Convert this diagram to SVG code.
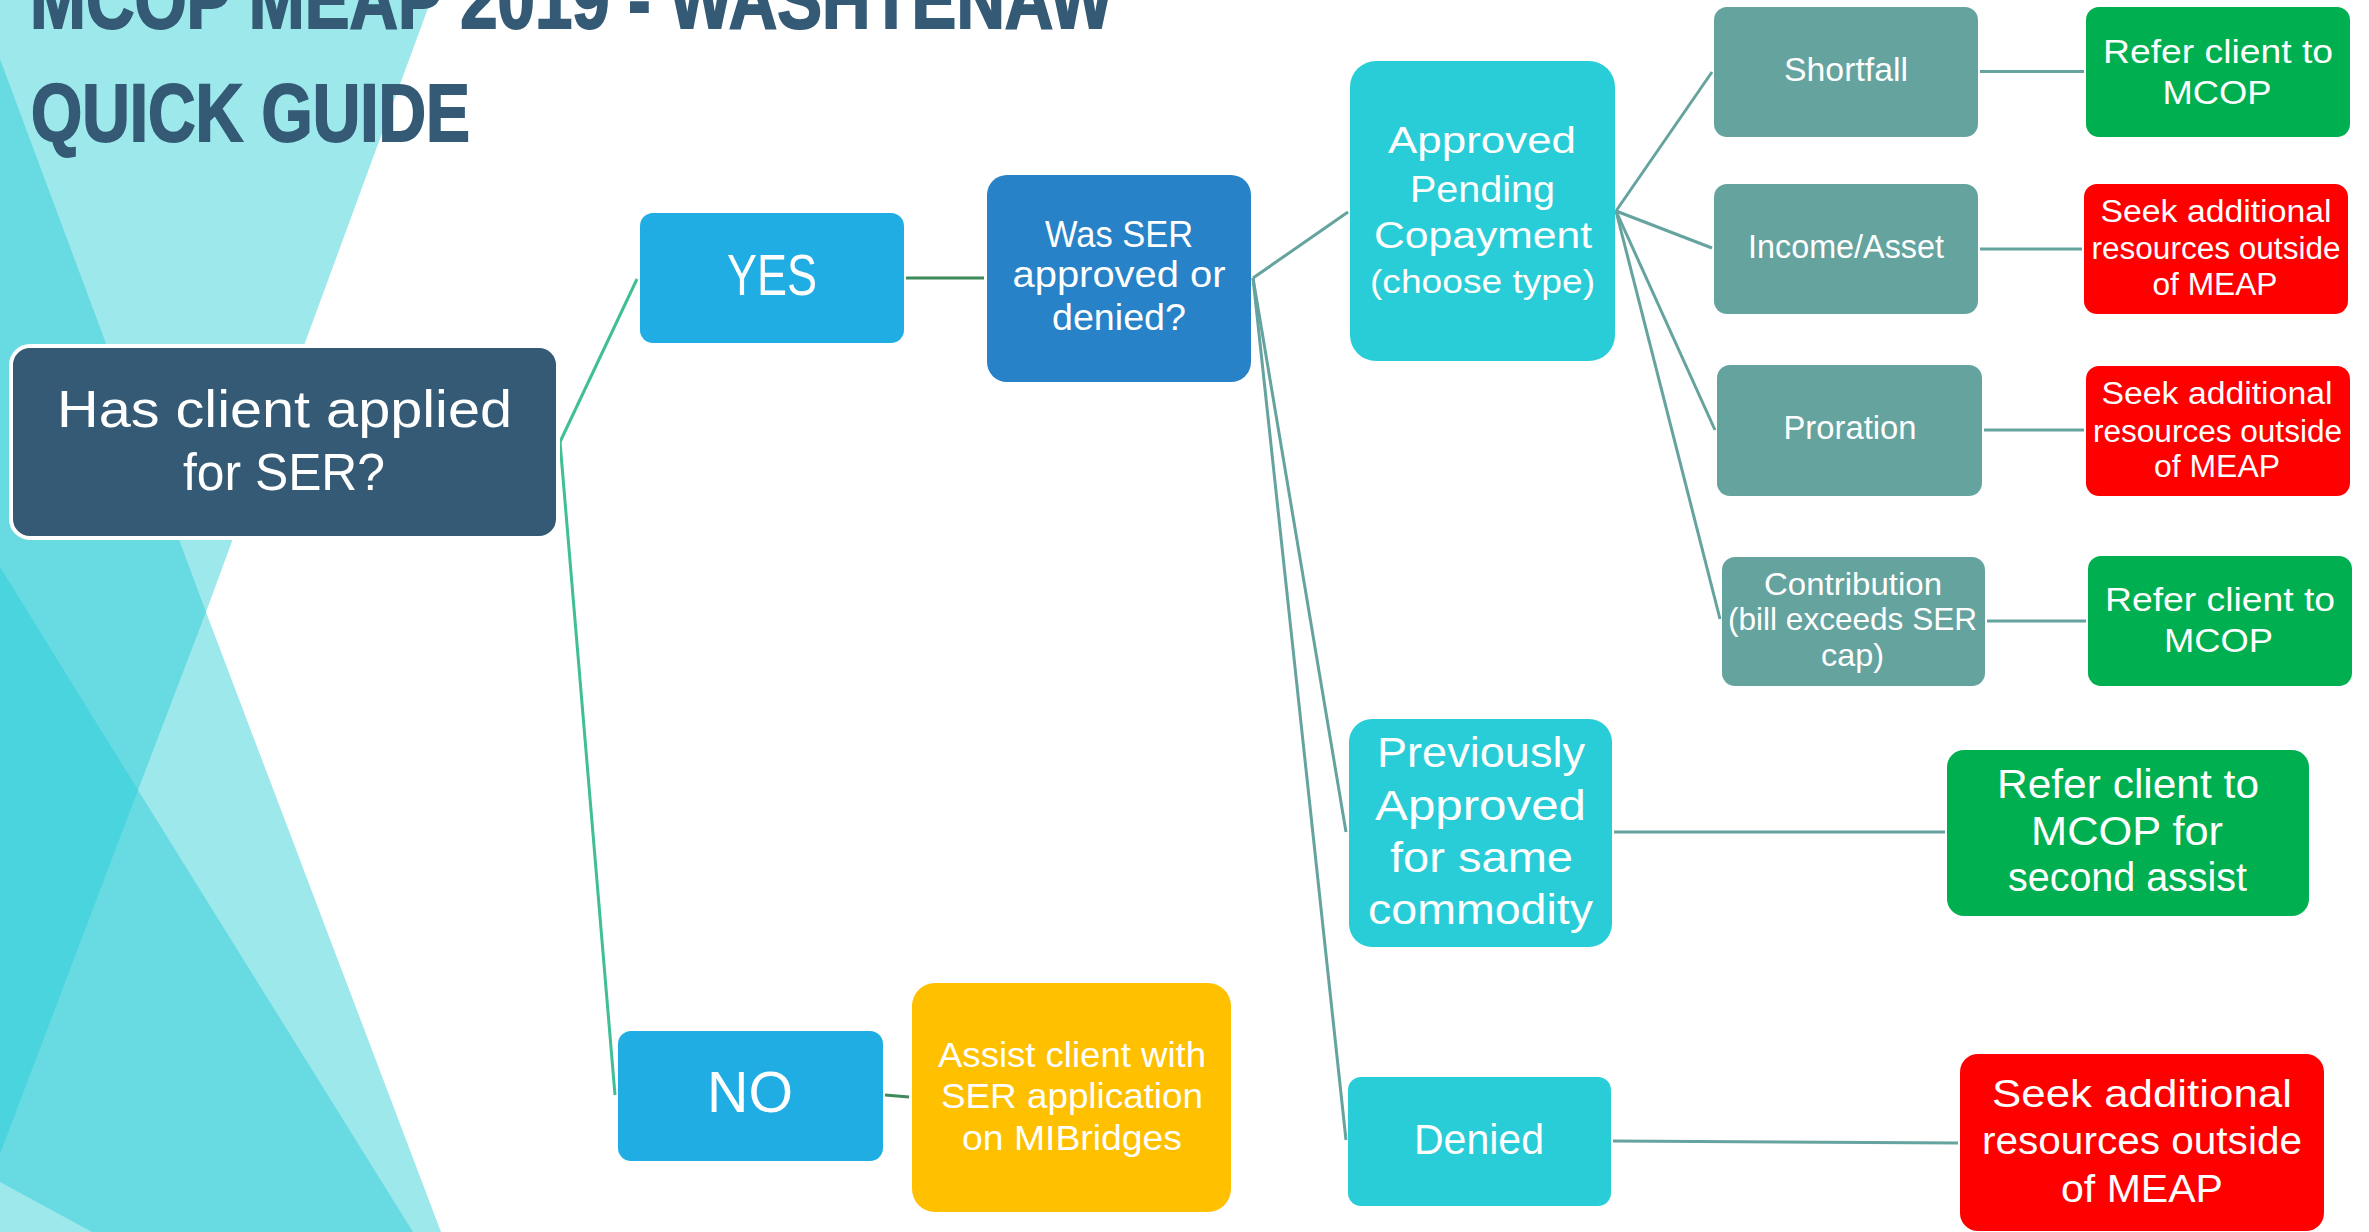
<svg xmlns="http://www.w3.org/2000/svg" width="2369" height="1232" viewBox="0 0 2369 1232">
<style>
.t{fill:#fff;font-family:'Liberation Sans',Arial,sans-serif;text-anchor:middle}
.title{fill:#345A75;stroke:#345A75;stroke-width:2;font-family:'Liberation Sans',Arial,sans-serif;font-weight:bold;font-size:82px}
.c{stroke:#65A39F;stroke-width:3;fill:none;stroke-linecap:butt}
.cg{stroke:#40BE95}
.cd{stroke:#3E8A5A}
.navy{fill:#345A75}
.blue{fill:#1FADE3}
.mid{fill:#2882C7}
.cyan{fill:#29CDD7}
.gray{fill:#65A39F}
.green{fill:#00B050}
.red{fill:#FF0000}
.gold{fill:#FFC000}
</style>
<rect width="2369" height="1232" fill="#fff"/>
<g id="background">
<polygon points="0,0 431,0 206,612 441,1232 0,1232" fill="#9DE8EB"/>
<polygon points="0,59 206,612 138,790 413,1232 92,1232 0,1182" fill="#68DBE2"/>
<polygon points="0,567 138,790 0,1154" fill="#4AD4DD"/>
</g>
<g id="title">
<text class="title" x="30" y="28" textLength="1083" lengthAdjust="spacingAndGlyphs">MCOP MEAP 2019 - WASHTENAW</text>
<text class="title" x="31" y="141" textLength="439" lengthAdjust="spacingAndGlyphs">QUICK GUIDE</text>
</g>
<g id="connectors">
<line class="c cg" x1="560" y1="442" x2="637" y2="279"/>
<line class="c cg" x1="560" y1="442" x2="615" y2="1095"/>
<line class="c cd" x1="906" y1="278" x2="984" y2="278"/>
<line class="c cd" x1="885" y1="1095" x2="909" y2="1097"/>
<line class="c" x1="1253" y1="278" x2="1348" y2="212"/>
<line class="c" x1="1253" y1="278" x2="1346" y2="832"/>
<line class="c" x1="1253" y1="278" x2="1346" y2="1140"/>
<line class="c" x1="1616" y1="211" x2="1712" y2="72"/>
<line class="c" x1="1616" y1="211" x2="1712" y2="248"/>
<line class="c" x1="1616" y1="211" x2="1715" y2="430"/>
<line class="c" x1="1616" y1="211" x2="1720" y2="619"/>
<line class="c" x1="1980" y1="71.5" x2="2084" y2="71.5"/>
<line class="c" x1="1980" y1="249" x2="2082" y2="249"/>
<line class="c" x1="1984" y1="430" x2="2084" y2="430"/>
<line class="c" x1="1987" y1="621" x2="2086" y2="621"/>
<line class="c" x1="1614" y1="832" x2="1945" y2="832"/>
<line class="c" x1="1613" y1="1141" x2="1958" y2="1143"/>
</g>
<g id="node-root">
<rect class="navy" x="11" y="346" width="547" height="192" rx="19" stroke="#fff" stroke-width="4"/>
<text class="t" font-size="52" x="284.5" y="427" textLength="455" lengthAdjust="spacingAndGlyphs">Has client applied</text>
<text class="t" font-size="52" x="284" y="490" textLength="202" lengthAdjust="spacingAndGlyphs">for SER?</text>
</g>
<g id="node-yes">
<rect class="blue" x="640" y="213" width="264" height="130" rx="13"/>
<text class="t" font-size="57" x="772" y="295" textLength="90" lengthAdjust="spacingAndGlyphs">YES</text>
</g>
<g id="node-no">
<rect class="blue" x="618" y="1031" width="265" height="130" rx="13"/>
<text class="t" font-size="57" x="750" y="1112" textLength="86" lengthAdjust="spacingAndGlyphs">NO</text>
</g>
<g id="node-assist">
<rect class="gold" x="912" y="983" width="319" height="229" rx="23"/>
<text class="t" font-size="35" x="1072" y="1067" textLength="268" lengthAdjust="spacingAndGlyphs">Assist client with</text>
<text class="t" font-size="35" x="1072" y="1108" textLength="262" lengthAdjust="spacingAndGlyphs">SER application</text>
<text class="t" font-size="35" x="1072" y="1150" textLength="220" lengthAdjust="spacingAndGlyphs">on MIBridges</text>
</g>
<g id="node-was-ser">
<rect class="mid" x="987" y="175" width="264" height="207" rx="20"/>
<text class="t" font-size="36" x="1119" y="247" textLength="148" lengthAdjust="spacingAndGlyphs">Was SER</text>
<text class="t" font-size="36" x="1119" y="287" textLength="213" lengthAdjust="spacingAndGlyphs">approved or</text>
<text class="t" font-size="36" x="1119" y="330" textLength="134" lengthAdjust="spacingAndGlyphs">denied?</text>
</g>
<g id="node-approved-pending">
<rect class="cyan" x="1350" y="61" width="265" height="300" rx="26"/>
<text class="t" font-size="37" x="1482" y="153" textLength="188" lengthAdjust="spacingAndGlyphs">Approved</text>
<text class="t" font-size="37" x="1482.5" y="202" textLength="145" lengthAdjust="spacingAndGlyphs">Pending</text>
<text class="t" font-size="37" x="1483" y="248" textLength="218" lengthAdjust="spacingAndGlyphs">Copayment</text>
<text class="t" font-size="33" x="1482.5" y="293" textLength="225" lengthAdjust="spacingAndGlyphs">(choose type)</text>
</g>
<g id="node-shortfall">
<rect class="gray" x="1714" y="7" width="264" height="130" rx="13"/>
<text class="t" font-size="34" x="1846" y="81" textLength="124" lengthAdjust="spacingAndGlyphs">Shortfall</text>
</g>
<g id="node-income-asset">
<rect class="gray" x="1714" y="184" width="264" height="130" rx="13"/>
<text class="t" font-size="34" x="1846" y="258" textLength="196" lengthAdjust="spacingAndGlyphs">Income/Asset</text>
</g>
<g id="node-proration">
<rect class="gray" x="1717" y="365" width="265" height="131" rx="13"/>
<text class="t" font-size="34" x="1850" y="439" textLength="133" lengthAdjust="spacingAndGlyphs">Proration</text>
</g>
<g id="node-contribution">
<rect class="gray" x="1722" y="557" width="263" height="129" rx="13"/>
<text class="t" font-size="32" x="1853" y="595" textLength="178" lengthAdjust="spacingAndGlyphs">Contribution</text>
<text class="t" font-size="32" x="1852.5" y="630" textLength="249" lengthAdjust="spacingAndGlyphs">(bill exceeds SER</text>
<text class="t" font-size="32" x="1852.5" y="666" textLength="63" lengthAdjust="spacingAndGlyphs">cap)</text>
</g>
<g id="node-refer-mcop-1">
<rect class="green" x="2086" y="7" width="264" height="130" rx="13"/>
<text class="t" font-size="34" x="2218" y="62.5" textLength="230" lengthAdjust="spacingAndGlyphs">Refer client to</text>
<text class="t" font-size="34" x="2217" y="103.5" textLength="109" lengthAdjust="spacingAndGlyphs">MCOP</text>
</g>
<g id="node-seek-1">
<rect class="red" x="2084" y="184" width="264" height="130" rx="13"/>
<text class="t" font-size="31" x="2216" y="222" textLength="231" lengthAdjust="spacingAndGlyphs">Seek additional</text>
<text class="t" font-size="31" x="2216" y="259" textLength="249" lengthAdjust="spacingAndGlyphs">resources outside</text>
<text class="t" font-size="31" x="2215" y="295" textLength="125" lengthAdjust="spacingAndGlyphs">of MEAP</text>
</g>
<g id="node-seek-2">
<rect class="red" x="2086" y="366" width="264" height="130" rx="13"/>
<text class="t" font-size="31" x="2217" y="404" textLength="231" lengthAdjust="spacingAndGlyphs">Seek additional</text>
<text class="t" font-size="31" x="2217.5" y="442" textLength="249" lengthAdjust="spacingAndGlyphs">resources outside</text>
<text class="t" font-size="31" x="2217" y="477" textLength="126" lengthAdjust="spacingAndGlyphs">of MEAP</text>
</g>
<g id="node-refer-mcop-2">
<rect class="green" x="2088" y="556" width="264" height="130" rx="13"/>
<text class="t" font-size="34" x="2220" y="611" textLength="230" lengthAdjust="spacingAndGlyphs">Refer client to</text>
<text class="t" font-size="34" x="2218.5" y="652" textLength="109" lengthAdjust="spacingAndGlyphs">MCOP</text>
</g>
<g id="node-previously-approved">
<rect class="cyan" x="1349" y="719" width="263" height="228" rx="23"/>
<text class="t" font-size="42" x="1481" y="767" textLength="208" lengthAdjust="spacingAndGlyphs">Previously</text>
<text class="t" font-size="42" x="1480.5" y="820" textLength="211" lengthAdjust="spacingAndGlyphs">Approved</text>
<text class="t" font-size="42" x="1481.5" y="872" textLength="183" lengthAdjust="spacingAndGlyphs">for same</text>
<text class="t" font-size="42" x="1480.5" y="924" textLength="225" lengthAdjust="spacingAndGlyphs">commodity</text>
</g>
<g id="node-refer-second">
<rect class="green" x="1947" y="750" width="362" height="166" rx="17"/>
<text class="t" font-size="40" x="2128" y="798" textLength="262" lengthAdjust="spacingAndGlyphs">Refer client to</text>
<text class="t" font-size="40" x="2127" y="844.5" textLength="192" lengthAdjust="spacingAndGlyphs">MCOP for</text>
<text class="t" font-size="40" x="2127.5" y="891" textLength="239" lengthAdjust="spacingAndGlyphs">second assist</text>
</g>
<g id="node-denied">
<rect class="cyan" x="1348" y="1077" width="263" height="129" rx="13"/>
<text class="t" font-size="42" x="1479" y="1154" textLength="130" lengthAdjust="spacingAndGlyphs">Denied</text>
</g>
<g id="node-seek-3">
<rect class="red" x="1960" y="1054" width="364" height="177" rx="18"/>
<text class="t" font-size="39" x="2142" y="1107" textLength="300" lengthAdjust="spacingAndGlyphs">Seek additional</text>
<text class="t" font-size="39" x="2142" y="1154" textLength="320" lengthAdjust="spacingAndGlyphs">resources outside</text>
<text class="t" font-size="39" x="2142" y="1202" textLength="162" lengthAdjust="spacingAndGlyphs">of MEAP</text>
</g>
</svg>
